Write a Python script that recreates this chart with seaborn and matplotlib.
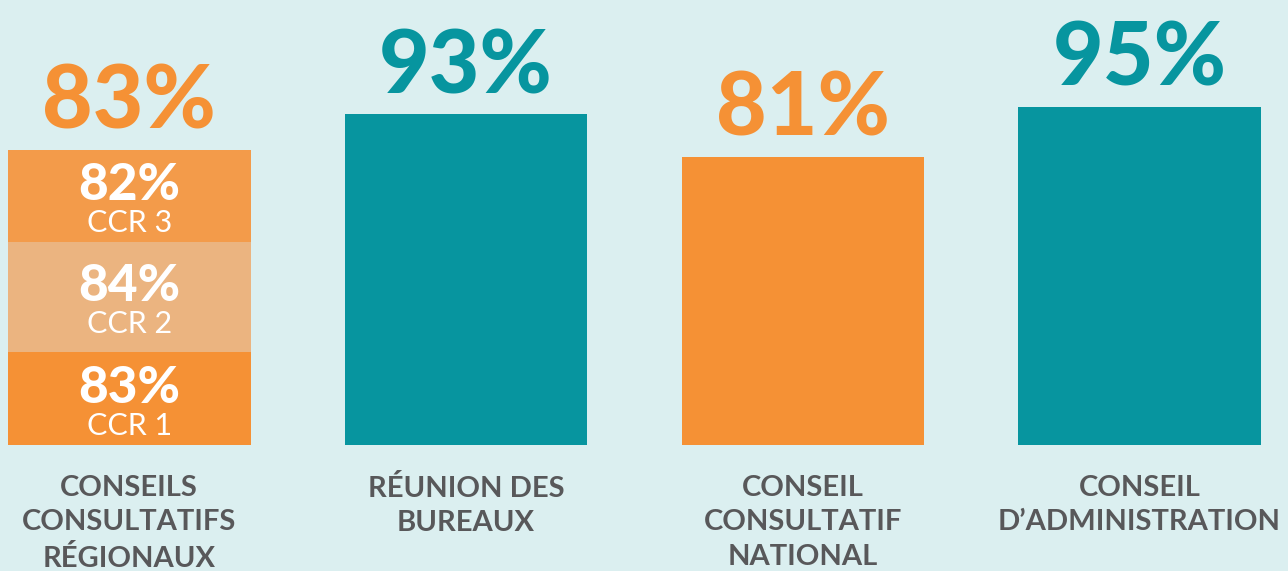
import matplotlib
matplotlib.use("Agg")
import matplotlib.pyplot as plt
import seaborn as sns
import pandas as pd

# ---- data ----
categories = ["CONSEILS\nCONSULTATIFS\nRÉGIONAUX", "RÉUNION DES\nBUREAUX",
              "CONSEIL\nCONSULTATIF\nNATIONAL", "CONSEIL\nD\u2019ADMINISTRATION"]
values = [83, 93, 81, 95]
value_labels = ["83%", "93%", "81%", "95%"]
ccr_names = ["CCR 1", "CCR 2", "CCR 3"]
ccr_values = [83, 84, 82]
ccr_segment_heights = [26, 31, 26]   # visual split of the first bar (bottom -> top)

# ---- styles ----
BG = "#dbeff0"
TEAL = "#07959f"
ORANGE = "#f59135"
CCR_COLORS = ["#f59135", "#ebb480", "#f39b4a"]
GRAY = "#58585a"

sns.set_theme(style="white")
plt.rcParams["font.family"] = ["Lato", "DejaVu Sans"]

fig = plt.figure(figsize=(12.88, 5.71), dpi=100)
fig.patch.set_facecolor(BG)
ax = fig.add_axes([0, 0, 1, 1])
ax.set_facecolor(BG)

df = pd.DataFrame({"cat": categories, "val": values})
bar_colors = [CCR_COLORS[2], TEAL, ORANGE, TEAL]
sns.barplot(data=df, x="cat", y="val", hue="cat", order=categories,
            palette=dict(zip(categories, bar_colors)), width=0.72,
            legend=False, ax=ax, saturation=1, linewidth=0)

# stacked segments for the first bar (cumulative, drawn tallest first)
cum = []
s = 0
for h in ccr_segment_heights:
    s += h
    cum.append(s)
for i in [1, 0]:
    sdf = pd.DataFrame({"cat": [categories[0]], "val": [cum[i]]})
    sns.barplot(data=sdf, x="cat", y="val", order=categories, color=CCR_COLORS[i],
                width=0.72, ax=ax, saturation=1, linewidth=0)

ax.set_xlim(-0.384, 3.441)
ax.set_ylim(-35.4, 125)
ax.axis("off")

label_colors = [ORANGE, TEAL, ORANGE, TEAL]
for i, (v, lab) in enumerate(zip(values, value_labels)):
    ax.annotate(lab, (i, v), xytext=(0, 15), textcoords="offset points",
                ha="center", va="baseline", fontsize=63, fontweight="black",
                color=label_colors[i])

# segment labels
bottom = 0
for name, cv, h in zip(ccr_names, ccr_values, ccr_segment_heights):
    mid = bottom + h / 2
    ax.annotate(f"{cv}%", (0, mid), xytext=(0, -3), textcoords="offset points",
                ha="center", va="baseline", fontsize=37, fontweight="black",
                color="white")
    ax.annotate(name, (0, mid), xytext=(0, -26), textcoords="offset points",
                ha="center", va="baseline", fontsize=22, color="white")
    bottom += h

for i, cat in enumerate(categories):
    ax.text(i, -8.3, cat, ha="center", va="top", fontsize=21, fontweight="bold",
            color=GRAY, linespacing=1.42)

fig.savefig("out.png", dpi=100, facecolor=BG)
